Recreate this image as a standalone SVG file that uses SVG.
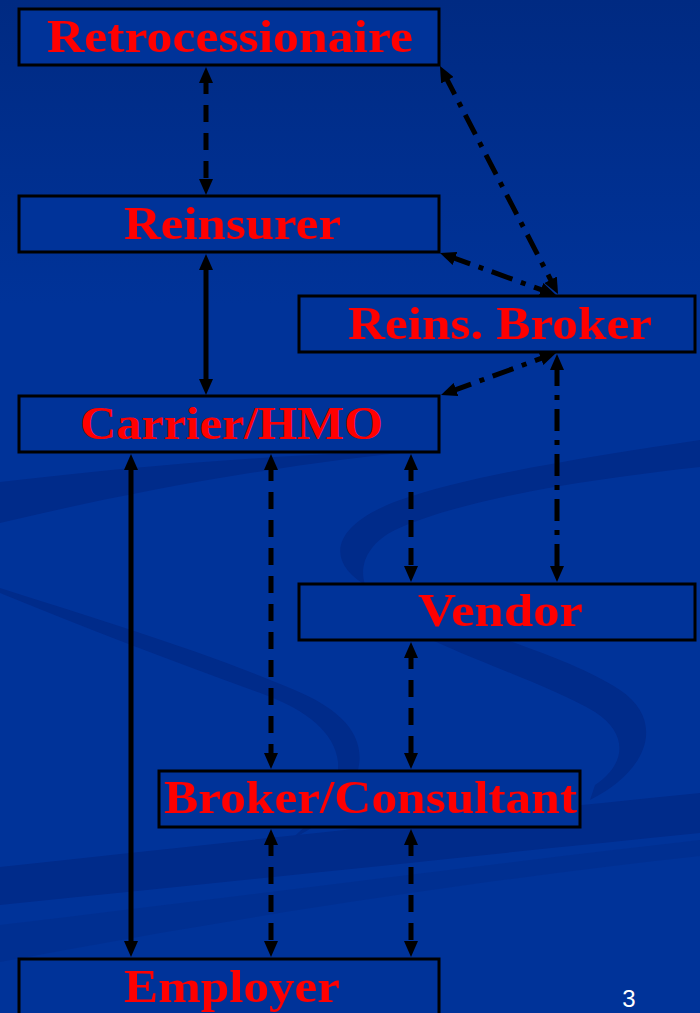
<svg xmlns="http://www.w3.org/2000/svg" width="700" height="1013" viewBox="0 0 700 1013">
<defs>
<linearGradient id="bg" x1="0" y1="0" x2="0" y2="1">
<stop offset="0" stop-color="#002a82"/>
<stop offset="0.3" stop-color="#003399"/>
<stop offset="1" stop-color="#003399"/>
</linearGradient>
<marker id="ah" viewBox="0 0 16 14" markerWidth="16" markerHeight="14" refX="6" refY="7" orient="auto-start-reverse" markerUnits="userSpaceOnUse">
<path d="M0,0 L16,7 L0,14 Z" fill="#000"/>
</marker>
<style>
.box{fill:#003399;stroke:#000;stroke-width:3}
.lbl{font-family:"Liberation Serif","Times New Roman",serif;font-weight:bold;font-size:46px;fill:#ff0000;text-anchor:middle}
.c{fill:none;stroke:#000;stroke-width:5;marker-start:url(#ah);marker-end:url(#ah)}
.dash{stroke-dasharray:17 11}
.dd{stroke-dasharray:22 9 5 9}
.sw{fill:#002b8a}
</style>
</defs>
<rect x="0" y="0" width="700" height="1013" fill="url(#bg)"/>
<g id="background-swooshes">
<path class="sw" d="M0,482 C120,468 260,455 430,450 C280,464 130,492 0,523 Z"/>
<path class="sw" d="M700,440 C600,455 470,475 400,500 C335,523 320,560 370,588 C430,620 560,650 620,690 C665,720 650,770 590,800 L595,785 C625,765 630,735 595,712 C540,680 440,650 395,620 C350,590 355,550 395,530 C460,500 580,480 700,467 Z"/>
<path class="sw" d="M0,588 C100,620 200,650 290,688 C350,712 375,745 350,790 C335,815 310,830 290,840 C320,815 340,790 338,762 C335,732 305,710 268,696 C175,662 90,630 0,593 Z"/>
<path class="sw" d="M0,867 C250,840 480,815 700,793 L700,833 C480,855 250,880 0,905 Z"/>
<path class="sw" opacity="0.5" d="M0,925 C250,895 480,865 700,840 L700,856 C480,880 250,915 0,962 Z"/>
</g>
<g id="node-retrocessionaire">
<rect class="box" x="19" y="9" width="420" height="56"/>
<text class="lbl" x="230" y="52" textLength="366" lengthAdjust="spacingAndGlyphs">Retrocessionaire</text>
</g>
<g id="node-reinsurer">
<rect class="box" x="19" y="196" width="420" height="56"/>
<text class="lbl" x="232.5" y="239" textLength="217" lengthAdjust="spacingAndGlyphs">Reinsurer</text>
</g>
<g id="node-reins-broker">
<rect class="box" x="299" y="296" width="396" height="56"/>
<text class="lbl" x="500" y="339" textLength="304" lengthAdjust="spacingAndGlyphs">Reins. Broker</text>
</g>
<g id="node-carrier-hmo">
<rect class="box" x="19" y="396" width="420" height="56"/>
<text class="lbl" x="231.5" y="439" textLength="303" lengthAdjust="spacingAndGlyphs">Carrier/HMO</text>
</g>
<g id="node-vendor">
<rect class="box" x="299" y="584" width="396" height="56"/>
<text class="lbl" x="500.5" y="626" textLength="165" lengthAdjust="spacingAndGlyphs">Vendor</text>
</g>
<g id="node-broker-consultant">
<rect class="box" x="159" y="771" width="421" height="56"/>
<text class="lbl" x="370.5" y="813" textLength="413" lengthAdjust="spacingAndGlyphs">Broker/Consultant</text>
</g>
<g id="node-employer">
<rect class="box" x="19" y="959" width="420" height="70"/>
<text class="lbl" x="232" y="1002" textLength="216" lengthAdjust="spacingAndGlyphs">Employer</text>
</g>
<g id="connectors">
<line class="c dash" x1="206" y1="77" x2="206" y2="185"/>
<line class="c dd" x1="444.6" y1="74.9" x2="553.4" y2="285.1"/>
<line class="c dd" x1="449.4" y1="256.4" x2="546.6" y2="291.6"/>
<line class="c" x1="206" y1="264" x2="206" y2="385"/>
<line class="c dd" x1="450.4" y1="391.6" x2="546.6" y2="356.4"/>
<line class="c dd" x1="557" y1="364" x2="557" y2="572"/>
<line class="c" x1="131" y1="464" x2="131" y2="947"/>
<line class="c dash" x1="271" y1="464" x2="271" y2="759"/>
<line class="c dash" x1="411" y1="464" x2="411" y2="572"/>
<line class="c dash" x1="411" y1="652" x2="411" y2="759"/>
<line class="c dash" x1="271" y1="839" x2="271" y2="947"/>
<line class="c dash" x1="411" y1="839" x2="411" y2="947"/>
</g>
<text x="629" y="1007" font-family="'Liberation Sans',Arial,sans-serif" font-size="24" fill="#ffffff" text-anchor="middle">3</text>
</svg>
